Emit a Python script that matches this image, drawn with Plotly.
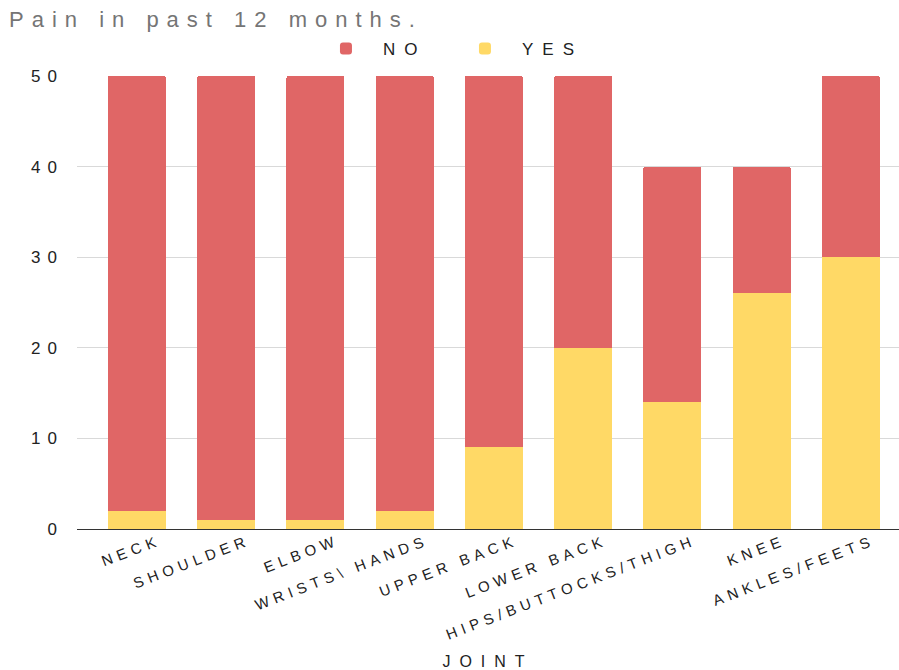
import plotly.graph_objects as go

joints = ["NECK", "SHOULDER", "ELBOW", "WRISTS\\ HANDS", "UPPER BACK", "LOWER BACK",
          "HIPS/BUTTOCKS/THIGH", "KNEE", "ANKLES/FEETS"]
yes_vals = [2, 1, 1, 2, 9, 20, 14, 26, 30]
no_vals = [48, 49, 49, 48, 41, 30, 26, 14, 20]
y_ticks = [0, 10, 20, 30, 40, 50]
title_text = "Pain in past 12 months."
x_title = "JOINT"

RED = "#e06666"
YELLOW = "#ffd966"
FONT = "Liberation Sans, Arial, sans-serif"


def spaced(text, px):
    return f'<span style="letter-spacing:{px}px">{text}</span>'


fig = go.Figure()
fig.add_trace(go.Bar(x=joints, y=yes_vals, name=spaced("YES", 9),
                     marker=dict(color=YELLOW, line=dict(width=0))))
fig.add_trace(go.Bar(x=joints, y=no_vals, name=spaced("NO", 9),
                     marker=dict(color=RED, line=dict(width=0))))

fig.update_layout(
    width=899, height=670,
    barmode="stack", bargap=0.35, barcornerradius=2,
    plot_bgcolor="white", paper_bgcolor="white",
    margin=dict(l=77, r=0, t=76, b=141, autoexpand=False),
    font=dict(family=FONT, color="#222222"),
    title=dict(text=spaced(title_text, 8), x=9 / 899, xref="container", xanchor="left",
               y=1 - 19 / 670, yref="container", yanchor="middle",
               font=dict(family=FONT, size=22, color="#757575")),
    legend=dict(orientation="h", x=0.2822, xanchor="left", y=1 + 27 / 453, yanchor="middle",
                traceorder="reversed", font=dict(family=FONT, size=17, color="#222222"),
                itemwidth=64, entrywidth=60, entrywidthmode="pixels"),
    showlegend=True,
)
fig.update_yaxes(range=[0, 50], tickvals=y_ticks,
                 ticktext=[spaced(str(v), 7) for v in y_ticks],
                 showgrid=True, gridcolor="#d9d9d9",
                 zeroline=True, zerolinecolor="#333333", zerolinewidth=1,
                 tickfont=dict(family=FONT, size=17, color="#222222"), ticklabelstandoff=12,
                 showline=False)
fig.update_xaxes(range=[-0.672, 8.538], tickangle=-21, showgrid=False,
                 tickvals=joints, ticktext=[spaced(j, 5) for j in joints],
                 ticklabelshift=22,
                 tickfont=dict(family=FONT, size=15, color="#222222"),
                 title=dict(text=spaced(x_title, 9), font=dict(family=FONT, size=16, color="#222222"),
                            standoff=14),
                 automargin=False)

fig.write_html("out.html")
